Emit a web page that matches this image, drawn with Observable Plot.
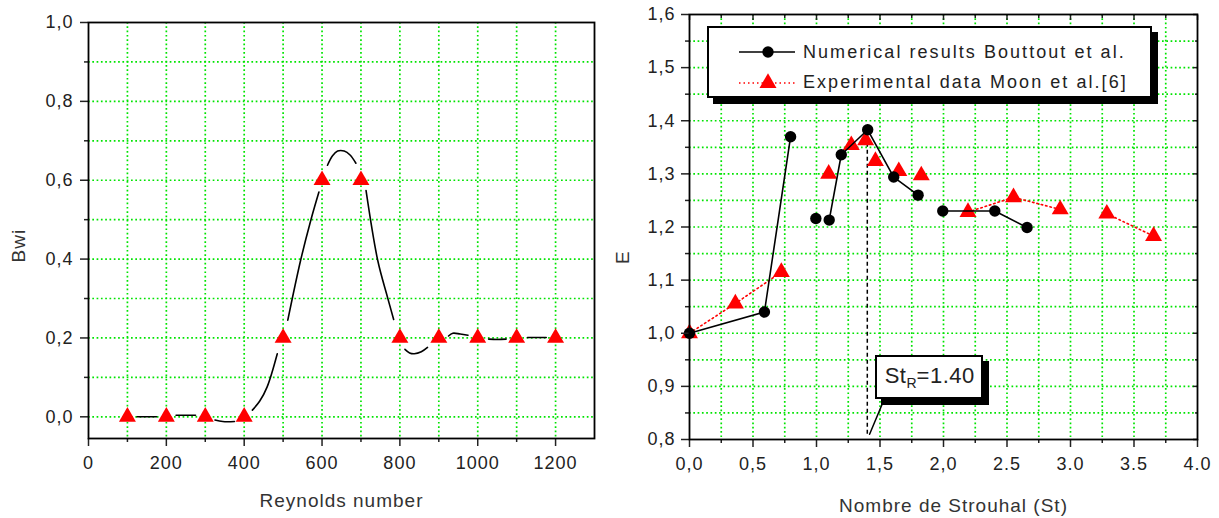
<!DOCTYPE html>
<html><head><meta charset="utf-8">
<script src="https://cdn.jsdelivr.net/npm/d3@7"></script>
<script src="https://cdn.jsdelivr.net/npm/@observablehq/plot@0.6"></script>
<style>
body{margin:0;background:#fff;}
#wrap{position:relative;width:1219px;height:518px;overflow:hidden;font-family:"Liberation Sans",Arial,sans-serif;color:#222;}
.panel{position:absolute;top:0;}
#legend{position:absolute;left:97px;top:26px;width:441px;height:68px;border:2px solid #000;box-shadow:6px 6px 0 #000;background:#fff;}
.lrow{position:absolute;left:0;height:24px;display:flex;align-items:center;}
.lrow svg{position:absolute;left:26px;top:0;}
.lrow span{position:absolute;left:94px;white-space:nowrap;font-size:18px;letter-spacing:2.05px;line-height:24px;top:0;}
#anno{position:absolute;border:2px solid #000;box-shadow:6px 6px 0 #000;background:#fff;font-size:22px;letter-spacing:0.5px;}
#anno sub{font-size:14px;vertical-align:-5px;letter-spacing:0;}
</style></head>
<body><div id="wrap"><div id="left" class="panel" style="left:0"></div><div id="right" class="panel" style="left:610px"></div></div>
<script>
// ---------- Left panel data ----------
const reynolds = [100,200,300,400,500,600,700,800,900,1000,1100,1200];
const bwiExp   = [0,0,0,0,0.2,0.6,0.6,0.2,0.2,0.2,0.2,0.2];
// smooth fitted curve, broken into segments between markers
const curveRe  = [125,175, 225,275, 325,345,375, 421,440,459,485, 512,545,571,592, 614,627,640,657,672,687, 713,743,768,784, 813,825,837,855,871, 925,936,955,975, 1028,1050,1073, 1128,1176];
const curveBwi = [0,0, 0.004,0.004, -0.008,-0.012,-0.012, 0.017,0.04,0.076,0.16, 0.245,0.397,0.498,0.57, 0.638,0.662,0.674,0.674,0.664,0.643, 0.574,0.397,0.304,0.247, 0.171,0.162,0.16,0.165,0.176, 0.205,0.212,0.21,0.207, 0.197,0.196,0.197, 0.201,0.201];
const curveSeg = [0,0, 1,1, 2,2,2, 3,3,3,3, 4,4,4,4, 5,5,5,5,5,5, 6,6,6,6, 7,7,7,7,7, 8,8,8,8, 9,9,9, 10,10];
const leftXTicks = [0,200,400,600,800,1000,1200];
const leftXTickLabels = ["0","200","400","600","800","1000","1200"];
const leftXMinor = [100,300,500,700,900,1100];
const leftXGrid = [100,200,300,400,500,600,700,800,900,1000,1100,1200];
const leftYTicks = [0,0.2,0.4,0.6,0.8,1.0];
const leftYTickLabels = ["0,0","0,2","0,4","0,6","0,8","1,0"];
const leftYMinor = [0.1,0.3,0.5,0.7,0.9];
const leftYGrid = [0,0.1,0.2,0.3,0.4,0.5,0.6,0.7,0.8,0.9];

// ---------- Right panel data ----------
const stNum  = [0,0.59,0.796,0.995,1.10,1.195,1.403,1.608,1.80,1.994,2.404,2.658];
const eNum   = [1.0,1.04,1.37,1.216,1.213,1.336,1.383,1.294,1.26,1.23,1.23,1.199];
const numSeg = [0,0,0,1,2,2,2,2,2,3,3,3];
const stExp  = [0,0.361,0.723,1.096,1.274,1.387,1.464,1.648,1.825,2.193,2.551,2.919,3.286,3.654];
const eExp   = [1.0,1.056,1.115,1.30,1.354,1.363,1.324,1.305,1.297,1.228,1.256,1.233,1.225,1.183];
const expSeg = [0,0,0,1,2,3,4,5,6,7,7,7,8,8];
const stR = 1.40;              // resonance Strouhal number
const stRLineE = [0.81,1.365]; // vertical extent of the dashed marker line (E)
const leaderSt = [1.418,1.525], leaderE = [0.81,0.871];
const rightXTicks = [0,0.5,1,1.5,2,2.5,3,3.5,4];
const rightXTickLabels = ["0,0","0,5","1,0","1,5","2,0","2.5","3.0","3.5","4.0"];
const rightXMinor = [0.25,0.75,1.25,1.75,2.25,2.75,3.25,3.75];
const rightYTicks = [0.8,0.9,1.0,1.1,1.2,1.3,1.4,1.5,1.6];
const rightYTickLabels = ["0,8","0,9","1,0","1,1","1,2","1,3","1,4","1,5","1,6"];
const rightYMinor = [0.85,0.95,1.05,1.15,1.25,1.35,1.45,1.55];
const legendLabels = ["Numerical results Bouttout et al.","Experimental data Moon et al.[6]"];

// ---------- build tables ----------
const expLeft = reynolds.map((r,i)=>({re:r, bwi:bwiExp[i]}));
const curve = curveRe.map((r,i)=>({re:r, bwi:curveBwi[i], seg:curveSeg[i]}));
const numData = stNum.map((s,i)=>({st:s, e:eNum[i], seg:numSeg[i]}));
const expData = stExp.map((s,i)=>({st:s, e:eExp[i], seg:expSeg[i]}));

const GRID = "#00e400";
const gridOpts = {stroke:GRID, strokeOpacity:1, strokeWidth:1.7, strokeDasharray:"1.7,2.6"};
const FONT = '"Liberation Sans", Arial, sans-serif';
const blank = () => "";
const fmt = (ticks, labels) => d => labels[ticks.indexOf(d)];

const left = Plot.plot({
  width:610, height:518, marginLeft:88, marginRight:16, marginTop:22, marginBottom:80,
  x:{domain:[0,1300], label:null}, y:{domain:[-0.055,1.0], label:null},
  style:{fontFamily:FONT, fontSize:"18px", color:"#222", background:"transparent", letterSpacing:"1px", overflow:"visible"},
  marks:[
    Plot.gridX(leftXGrid, gridOpts),
    Plot.gridY(leftYGrid, gridOpts),
    Plot.line(curve, {x:"re", y:"bwi", z:"seg", curve:"catmull-rom", stroke:"#000", strokeWidth:1.6}),
    Plot.dot(expLeft, {x:"re", y:"bwi", symbol:"triangle", r:6.3, fill:"#ff0000", stroke:"none"}),
    Plot.axisX(leftXTicks, {anchor:"bottom", tickSize:8, tickPadding:10, tickFormat:fmt(leftXTicks,leftXTickLabels), label:null, fontSize:18, strokeWidth:1.5}),
    Plot.axisX(leftXMinor, {anchor:"bottom", tickSize:4, tickFormat:blank, label:null, strokeWidth:1.5}),
    Plot.axisY(leftYTicks, {anchor:"left", tickSize:8, tickPadding:7, tickFormat:fmt(leftYTicks,leftYTickLabels), label:null, fontSize:18, strokeWidth:1.5}),
    Plot.axisY(leftYMinor, {anchor:"left", tickSize:4, tickFormat:blank, label:null, strokeWidth:1.5}),
    Plot.frame({stroke:"#000", strokeWidth:1.8}),
    Plot.text(["Reynolds number"], {frameAnchor:"bottom", dy:68, fontSize:19, fill:"#333", letterSpacing:"1.6px"}),
    Plot.text(["Bwi"], {frameAnchor:"left", dx:-70, dy:32, rotate:-90, fontSize:19, fill:"#333"})
  ]
});
document.getElementById("left").appendChild(left);

const right = Plot.plot({
  width:609, height:518, marginLeft:79, marginRight:22, marginTop:14, marginBottom:79,
  x:{domain:[0,4], label:null}, y:{domain:[0.8,1.6], label:null},
  style:{fontFamily:FONT, fontSize:"18px", color:"#222", background:"transparent", letterSpacing:"1px", overflow:"visible"},
  marks:[
    Plot.gridX(rightXTicks.concat(rightXMinor).filter(d=>d>0 && d<4), gridOpts),
    Plot.gridY(rightYTicks.concat(rightYMinor).filter(d=>d>0.8 && d<1.6), gridOpts),
    Plot.ruleX([stR], {y1:stRLineE[0], y2:stRLineE[1], stroke:"#000", strokeWidth:1.5, strokeDasharray:"4,3"}),
    Plot.line([0,1].map(i=>({st:leaderSt[i], e:leaderE[i]})), {x:"st", y:"e", stroke:"#000", strokeWidth:1.5}),
    Plot.line(expData, {x:"st", y:"e", z:"seg", stroke:"#ff0000", strokeWidth:1.6, strokeDasharray:"1.5,3"}),
    Plot.dot(expData, {x:"st", y:"e", symbol:"triangle", r:6.3, fill:"#ff0000", stroke:"none"}),
    Plot.line(numData, {x:"st", y:"e", z:"seg", stroke:"#000", strokeWidth:1.6}),
    Plot.dot(numData, {x:"st", y:"e", r:5.7, fill:"#000", stroke:"none"}),
    Plot.axisX(rightXTicks, {anchor:"bottom", tickSize:8, tickPadding:10, tickFormat:fmt(rightXTicks,rightXTickLabels), label:null, fontSize:18, strokeWidth:1.5}),
    Plot.axisX(rightXMinor, {anchor:"bottom", tickSize:4, tickFormat:blank, label:null, strokeWidth:1.5}),
    Plot.axisY(rightYTicks, {anchor:"left", tickSize:8, tickPadding:6, tickFormat:fmt(rightYTicks,rightYTickLabels), label:null, fontSize:18, strokeWidth:1.5}),
    Plot.axisY(rightYMinor, {anchor:"left", tickSize:4, tickFormat:blank, label:null, strokeWidth:1.5}),
    Plot.axisX(rightXTicks, {anchor:"top", tickSize:-5, tickFormat:blank, label:null, strokeWidth:1.5}),
    Plot.axisX(rightXMinor, {anchor:"top", tickSize:-3, tickFormat:blank, label:null, strokeWidth:1.5}),
    Plot.axisY(rightYTicks, {anchor:"right", tickSize:-5, tickFormat:blank, label:null, strokeWidth:1.5}),
    Plot.axisY(rightYMinor, {anchor:"right", tickSize:-3, tickFormat:blank, label:null, strokeWidth:1.5}),
    Plot.frame({stroke:"#000", strokeWidth:1.8}),
    Plot.text(["Nombre de Strouhal (St)"], {frameAnchor:"bottom", dy:72, dx:10, fontSize:19, fill:"#333", letterSpacing:"1.8px"}),
    Plot.text(["E"], {frameAnchor:"left", dx:-67, dy:37, rotate:-90, fontSize:19, fill:"#333"})
  ]
});
const rightDiv = document.getElementById("right");
rightDiv.appendChild(right);

// legend (inside the plot frame, as in the original)
const legend = document.createElement("div");
legend.id = "legend";
legend.innerHTML =
  `<div class="lrow" style="top:12px"><svg width="60" height="24"><line x1="4" y1="12" x2="60" y2="12" stroke="#000" stroke-width="1.6"/><circle cx="33" cy="12" r="5.7" fill="#000"/></svg><span>${legendLabels[0]}</span></div>` +
  `<div class="lrow" style="top:42px"><svg width="60" height="24"><line x1="4" y1="13" x2="60" y2="13" stroke="#f00" stroke-width="1.6" stroke-dasharray="1.5,3"/><path d="${d3.symbol(d3.symbolTriangle, Math.PI*6.3*6.3)()}" transform="translate(33,13)" fill="#f00"/></svg><span>${legendLabels[1]}</span></div>`;
rightDiv.appendChild(legend);

// St_R annotation box placed through the plot's scales
const sx = right.scale("x"), sy = right.scale("y");
const anno = document.createElement("div");
anno.id = "anno";
const ax = sx.apply(leaderSt[1]) - 8, ay = sy.apply(0.959);
anno.style.left = ax + "px";
anno.style.top = ay + "px";
anno.style.width = "104px";
anno.style.height = "40px";
anno.innerHTML = `<div style="position:absolute;left:8px;top:6px;white-space:nowrap">St<sub>R</sub>=${stR.toFixed(2)}</div>`;
rightDiv.appendChild(anno);
</script>
</body></html>
